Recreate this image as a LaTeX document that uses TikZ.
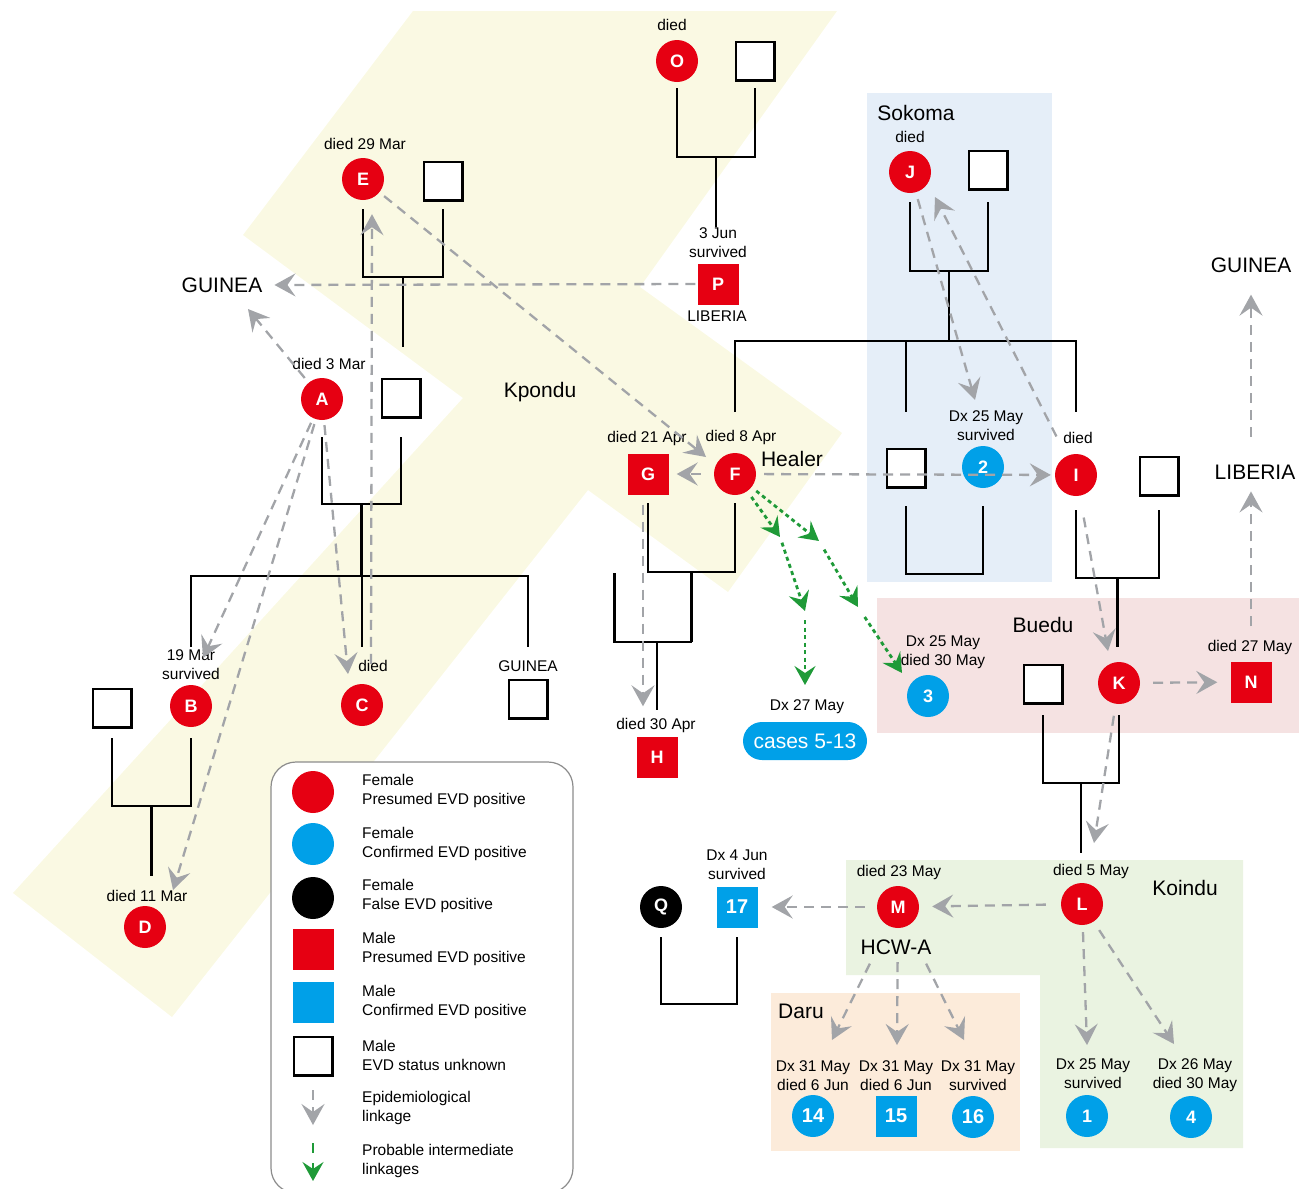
\documentclass[tikz,border=0pt]{standalone}
\usepackage{fontspec}
\setmainfont{Liberation Sans}
\usepackage{tikz}
\usetikzlibrary{arrows.meta,calc}
\definecolor{EVDRed}{HTML}{E60012}
\definecolor{EVDBlue}{HTML}{00A0E8}
\definecolor{EVDGray}{HTML}{A2A4A8}
\definecolor{EVDGreen}{HTML}{1F9A38}
\definecolor{KpoYellow}{HTML}{FAF9E3}
\definecolor{SokBlue}{HTML}{E5EEF8}
\definecolor{BueRed}{HTML}{F5E2E2}
\definecolor{KoiGreen}{HTML}{EAF3E1}
\definecolor{DarOrange}{HTML}{FCEBDA}
\newcommand{\lblfont}{\fontsize{15.5}{19}\selectfont}
\newcommand{\placefont}{\fontsize{21}{24}\selectfont}
\newcommand{\symfont}{\fontsize{18}{18}\selectfont\bfseries}
\newcommand{\numfont}{\fontsize{20}{20}\selectfont\bfseries}
\tikzset{
  female/.style={circle,minimum size=42pt,inner sep=0pt,text=white,font=\symfont},
  femred/.style={female,fill=EVDRed},
  femblue/.style={female,fill=EVDBlue},
  femblack/.style={female,fill=black},
  male/.style={rectangle,minimum size=41pt,inner sep=0pt,text=white,font=\symfont},
  malered/.style={male,fill=EVDRed},
  maleblue/.style={male,fill=EVDBlue},
  maleunk/.style={rectangle,minimum size=38.5pt,inner sep=0pt,draw=black,line width=2.5pt,fill=white},
  lbl/.style={font=\lblfont,align=center,inner sep=0pt},
  place/.style={font=\placefont,inner sep=0pt},
  legtext/.style={font=\lblfont,align=left,anchor=west,inner sep=0pt},
  casepill/.style={rectangle,rounded corners=19pt,fill=EVDBlue,text=white,
    minimum width=124pt,minimum height=38pt,inner sep=0pt,font=\placefont},
  legendbox/.style={draw=black!45,line width=1.2pt,rounded corners=25pt,fill=white},
  kin/.style={draw=black,line width=2.6pt},
  epi/.style={draw=EVDGray,line width=2.3pt,dash pattern=on 10pt off 7pt,
    -{Stealth[length=21pt,width=23pt,inset=8pt]}},
  prob/.style={draw=EVDGreen,line width=2.8pt,dash pattern=on 4pt off 3.5pt,
    -{Stealth[length=19pt,width=21pt,inset=7pt]}}
}
\newcommand{\couple}[5]{%
  \draw[kin] (#1 |- 0,#3) -- (#1 |- 0,#4) -- (#2 |- 0,#4) -- (#2 |- 0,#3);
  \draw[kin] ($(#1 |- 0,#4)!.5!(#2 |- 0,#4)$) -- ($(#1 |- 0,#5)!.5!(#2 |- 0,#5)$);%
}

\begin{document}
\begin{tikzpicture}[x=1pt,y=-1pt]
  \useasboundingbox (0,0) rectangle (1299,1189);
  \fill[KpoYellow] (413,11) -- (837,11) -- (640,287) -- (842,433) -- (728,592) -- (588,490)
    -- (172,1017) -- (13,893) -- (463,398) -- (243,235) -- cycle;
  \fill[SokBlue] (867,93) rectangle (1052,582);
  \fill[BueRed] (877,598) rectangle (1299,733);
  \fill[KoiGreen] (846,860) -- (1243,860) -- (1243,1148) -- (1040,1148) -- (1040,975) -- (846,975) -- cycle;
  \fill[DarOrange] (771,993) rectangle (1020,1151);
  \draw[legendbox] (271,762) rectangle (573,1193);

  \node[place] (kpondu) at (540,392) {Kpondu};
  \node[place] (sokoma) at (916,113) {Sokoma};
  \node[place] (buedu) at (1043,625) {Buedu};
  \node[place] (koindu) at (1185,888) {Koindu};
  \node[place] (daru) at (801,1011) {Daru};
  \node[place] (guineaL) at (222,285) {GUINEA};
  \node[place] (guineaR) at (1251,265) {GUINEA};
  \node[place] (liberiaR) at (1255,472) {LIBERIA};

  \node[femred] (O) at (677,61) {O};
  \node[maleunk] (Osq) at (755,61) {};
  \node[femred] (E) at (363,179) {E};
  \node[maleunk] (Esq) at (443,181) {};
  \node[malered] (P) at (718,284) {P};
  \node[femred] (A) at (322,399) {A};
  \node[maleunk] (Asq) at (401,398) {};
  \node[femred] (B) at (191,706) {B};
  \node[maleunk] (Bsq) at (112,708) {};
  \node[femred] (C) at (362,705) {C};
  \node[maleunk] (guineaSq) at (528,699) {};
  \node[femred] (D) at (145,927) {D};
  \node[femred] (J) at (910,172) {J};
  \node[maleunk] (Jsq) at (988,170) {};
  \node[malered] (G) at (648,474) {G};
  \node[femred] (F) at (735,474) {F};
  \node[maleunk] (Ssq) at (906,468) {};
  \node[femblue] (two) at (983,467) {2};
  \node[femred] (I) at (1076,475) {I};
  \node[maleunk] (Isq) at (1159,476) {};
  \node[femred] (K) at (1119,683) {K};
  \node[maleunk] (Ksq) at (1043,684) {};
  \node[malered] (N) at (1251,682) {N};
  \node[femblue] (three) at (928,696) {3};
  \node[malered] (H) at (657,757) {H};
  \node[casepill] (cases) at (805,741) {cases 5-13};
  \node[femblack] (Q) at (661,907) {Q};
  \node[maleblue,font=\numfont] (seventeen) at (737,907) {17};
  \node[femred] (M) at (898,907) {M};
  \node[femred] (L) at (1082,904) {L};
  \node[femblue,font=\numfont] (c14) at (813,1116) {14};
  \node[maleblue,font=\numfont] (c15) at (896,1116) {15};
  \node[femblue,font=\numfont] (c16) at (973,1117) {16};
  \node[femblue] (c1) at (1087,1116) {1};
  \node[femblue] (c4) at (1191,1117) {4};

  \node[lbl] (diedO) at (672,25) {died};
  \node[lbl] (diedE) at (365,144) {died 29 Mar};
  \node[lbl] (dxP) at (718,243) {3 Jun\\survived};
  \node[lbl] (liberiaP) at (717,316) {LIBERIA};
  \node[lbl] (diedA) at (329,364) {died 3 Mar};
  \node[lbl] (dxB) at (191,665) {19 Mar\\survived};
  \node[lbl] (diedC) at (373,666) {died};
  \node[lbl] (guineaC) at (528,666) {GUINEA};
  \node[lbl] (diedD) at (147,896) {died 11 Mar};
  \node[lbl] (diedJ) at (910,137) {died};
  \node[lbl] (diedG) at (647,438) {died 21 Apr};
  \node[lbl] (diedF) at (741,437) {died 8 Apr};
  \node[place] (healer) at (792,459) {Healer};
  \node[lbl] (dxTwo) at (986,426) {Dx 25 May\\survived};
  \node[lbl] (diedI) at (1078,438) {died};
  \node[lbl] (dxThree) at (943,652) {Dx 25 May\\died 30 May};
  \node[lbl] (diedN) at (1250,647) {died 27 May};
  \node[lbl] (dx27) at (807,707) {Dx 27 May};
  \node[lbl] (diedH) at (656,725) {died 30 Apr};
  \node[lbl] (dxSeventeen) at (737,865) {Dx 4 Jun\\survived};
  \node[lbl] (diedM) at (899,872) {died 23 May};
  \node[place] (hcw) at (896,947) {HCW-A};
  \node[lbl] (diedL) at (1091,871) {died 5 May};
  \node[lbl] (dx14) at (813,1076) {Dx 31 May\\died 6 Jun};
  \node[lbl] (dx15) at (896,1076) {Dx 31 May\\died 6 Jun};
  \node[lbl] (dx16) at (978,1076) {Dx 31 May\\survived};
  \node[lbl] (dx1) at (1093,1074) {Dx 25 May\\survived};
  \node[lbl] (dx4) at (1195,1075) {Dx 26 May\\died 30 May};

  \couple{O}{Osq}{88}{157}{227}
  \couple{E}{Esq}{209}{277}{347}
  \couple{A}{Asq}{437}{504}{576}
  \draw[kin] (B |- 0,647) -- (B |- 0,576) -- (guineaSq |- 0,576) -- (guineaSq |- 0,647);
  \draw[kin] (C |- 0,576) -- (C |- 0,647);
  \couple{Bsq}{B}{738}{806}{876}
  \couple{J}{Jsq}{202}{271}{341}
  \draw[kin] (F |- 0,412) -- (F |- 0,341) -- (I |- 0,341) -- (I |- 0,412);
  \draw[kin] (Ssq |- 0,341) -- (Ssq |- 0,412);
  \couple{G}{F}{503}{572}{642}
  \coordinate (GFkid) at ($(G |- 0,642)!.5!(F |- 0,642)$);
  \draw[kin] (GFkid) -- ++(-77,0) -- ++(0,-69);
  \draw[kin] (H |- GFkid) -- (H |- 0,710);
  \draw[kin] (Ssq |- 0,506) -- (Ssq |- 0,574) -- (two |- 0,574) -- (two |- 0,506);
  \couple{I}{Isq}{510}{578}{647}
  \couple{Ksq}{K}{715}{783}{853}
  \draw[kin] (Q |- 0,937) -- (Q |- 0,1004) -- (seventeen |- 0,1004) -- (seventeen |- 0,937);

  \draw[epi,shorten <=6pt] (A) -- ([xshift=26pt,yshift=-24pt]guineaL.center);
  \draw[epi,shorten <=2pt,shorten >=12pt] (P.west) -- (guineaL.east);
  \draw[epi,shorten <=5pt] (A) -- ([xshift=12pt,yshift=48pt]B.center);
  \draw[epi,shorten <=5pt] (A) -- ([xshift=28pt,yshift=37pt]D.center);
  \draw[epi,shorten <=5pt] (A) -- ([xshift=-14pt,yshift=31pt]C.center);
  \draw[epi] ([xshift=9pt,yshift=20pt]C.north) -- ([xshift=9pt,yshift=-14pt]E.south);
  \draw[epi,shorten <=6pt] (E) -- ([xshift=-29pt,yshift=17pt]F.center);
  \draw[epi,shorten <=13pt,shorten >=8pt] (F) -- (G);
  \draw[epi,shorten <=8pt,shorten >=4pt] (F) -- (I);
  \draw[epi,shorten <=10pt] ([xshift=-5pt]G.south) -- ([xshift=-14pt,yshift=30pt]H.north);
  \draw[epi,shorten <=7pt] (J) -- ([xshift=-8pt,yshift=67pt]two.center);
  \draw[epi,shorten <=22pt] (I) -- ([xshift=25pt,yshift=-25pt]J.center);
  \draw[epi,shorten <=22pt] (I) -- ([xshift=-11pt,yshift=32pt]K.center);
  \draw[epi,shorten <=13pt,shorten >=13pt] (K) -- (N);
  \draw[epi,shorten <=35pt,shorten >=12pt] (N.north) -- (N.north |- liberiaR.south);
  \draw[epi,shorten <=28pt,shorten >=22pt] (N.north |- liberiaR.north) -- (N.north |- guineaR.south);
  \draw[epi,shorten <=12pt] (K) -- ([xshift=12pt,yshift=61pt]L.center);
  \draw[epi,shorten <=15pt,shorten >=13pt] (L) -- (M);
  \draw[epi,shorten <=12pt,shorten >=14pt] (M) -- (seventeen);
  \draw[epi,shorten <=42pt] (M) -- ([xshift=19pt,yshift=76pt]c14.center);
  \draw[epi,shorten <=34pt] (M) -- ([xshift=1pt,yshift=71pt]c15.center);
  \draw[epi,shorten <=42pt] (M) -- ([xshift=-9pt,yshift=77pt]c16.center);
  \draw[epi,shorten <=7pt] (L) -- ([yshift=71pt]c1.center);
  \draw[epi,shorten <=10pt] (L) -- ([xshift=-17pt,yshift=73pt]c4.center);

  \coordinate (g1a) at (780,537);
  \coordinate (g1b) at (805,611);
  \coordinate (g2a) at (819,541);
  \coordinate (g2b) at (858,607);
  \draw[prob,shorten <=7pt] (F) -- (g1a);
  \draw[prob,shorten <=6pt] (g1a) -- (g1b);
  \draw[prob,shorten <=9pt] (g1b) -- ([xshift=-2pt,yshift=22pt]dx27.center);
  \draw[prob,shorten <=6pt] (F) -- (g2a);
  \draw[prob,shorten <=10pt] (g2a) -- (g2b);
  \draw[prob,shorten <=12pt] (g2b) -- ([xshift=-26pt,yshift=23pt]three.center);

  \node[femred] (legA) at (313,792) {};
  \node[femblue] (legB) at (313,844) {};
  \node[femblack] (legC) at (313,898) {};
  \node[malered] (legD) at (313,949) {};
  \node[maleblue] (legE) at (313,1002) {};
  \node[maleunk] (legF) at (313,1056) {};
  \coordinate (legEpiA) at (313,1090);
  \coordinate (legEpiB) at (313,1125);
  \draw[epi] (legEpiA) -- (legEpiB);
  \coordinate (legProbA) at (313,1143);
  \coordinate (legProbB) at (313,1181);
  \draw[prob,dash pattern=on 10pt off 10pt] (legProbA) -- (legProbB);
  \node[legtext] (legTA) at (362,791) {Female\\Presumed EVD positive};
  \node[legtext] (legTB) at (362,844) {Female\\Confirmed EVD positive};
  \node[legtext] (legTC) at (362,896) {Female\\False EVD positive};
  \node[legtext] (legTD) at (362,949) {Male\\Presumed EVD positive};
  \node[legtext] (legTE) at (362,1002) {Male\\Confirmed EVD positive};
  \node[legtext] (legTF) at (362,1055) {Male\\EVD status unknown};
  \node[legtext] (legTG) at (362,1108) {Epidemiological\\linkage};
  \node[legtext] (legTH) at (362,1161) {Probable intermediate\\linkages};
\end{tikzpicture}
\end{document}
